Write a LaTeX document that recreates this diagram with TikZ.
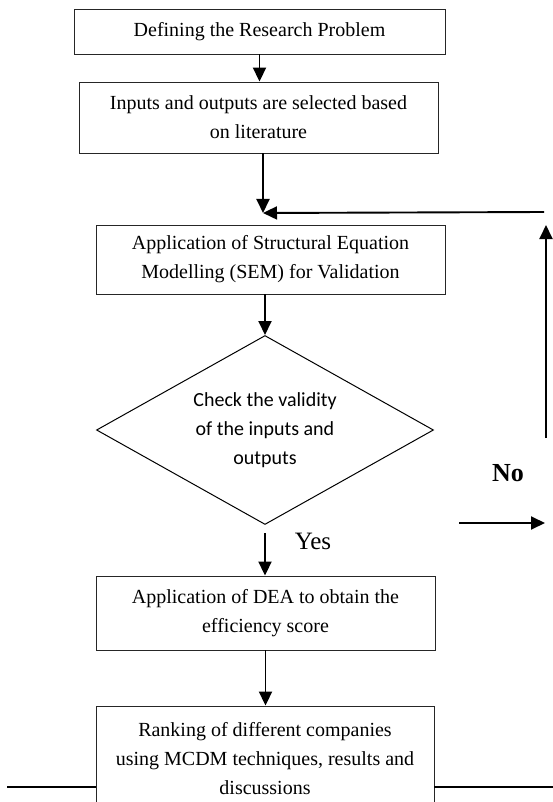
\documentclass[tikz,border=0pt]{standalone}
\usepackage{fontspec}
\setmainfont{Liberation Serif}
\newfontfamily\calfont{Carlito}
\usepackage{tikz}
\usetikzlibrary{positioning, arrows.meta, shapes.geometric}
\tikzstyle{process} = [rectangle, draw=black!85, line width=0.9pt, align=center, font=\fontsize{20}{29}\selectfont]
\tikzstyle{decision} = [diamond, draw=black, line width=1pt, aspect=1.78, inner sep=0pt, align=center, font=\calfont\fontsize{20}{29}\selectfont]
\tikzstyle{arrow} = [line width=1.9pt,-{Triangle[length=14pt,width=13pt]}]
\begin{document}
\begin{tikzpicture}[x=1pt,y=-1pt]
\clip (0,0) rectangle (553,802);
\node (define) [process, minimum width=371pt, minimum height=45pt] at (259.5,31.5) {Defining the Research Problem};
\node (select) [process, minimum width=359pt, minimum height=71pt] at (258.5,117.5) {Inputs and outputs are selected based\\on literature};
\node (sem) [process, minimum width=349pt, minimum height=69pt] at (270.5,259.5) {Application of Structural Equation\\Modelling (SEM) for Validation};
\node (check) [decision, minimum width=337pt, minimum height=189pt] at (265,430) {Check the validity\\of the inputs and\\outputs};
\node (dea) [process, minimum width=339pt, minimum height=74pt] at (265.5,613) {Application of DEA to obtain the\\efficiency score};
\node (rank) [process, minimum width=338pt, minimum height=106pt] at (265,759) {Ranking of different companies\\using MCDM techniques, results and\\discussions};

\coordinate (merge) at (263,213);
\coordinate (fbtop) at (544,212);
\coordinate (fbbot) at (546,438);
\coordinate (fbtip) at (546,225);
\coordinate (yes) at (265,533);
\coordinate (nostart) at (459,523);
\coordinate (noend) at (545,523);
\coordinate (lleft) at (7,787);
\coordinate (rright) at (553,787);

\draw [arrow] (define.south) -- (define.south |- select.north);
\draw [arrow] (merge |- select.south) -- (merge);
\draw [arrow] (fbtop) -- (merge);
\draw [arrow] (fbbot) -- (fbtip);
\draw [arrow] (sem.south -| check.north) -- (check.north);
\draw [arrow] (yes) -- (yes |- dea.north);
\draw [arrow] (nostart) -- (noend);
\draw [arrow] (dea.south) -- (dea.south |- rank.north);
\draw [line width=1.9pt] (lleft) -- (lleft -| rank.west);
\draw [line width=1.9pt] (rank.east |- rright) -- (rright);

\node (yeslabel) [font=\fontsize{25}{30}\selectfont] at (313,541) {Yes};
\node (nolabel) [font=\bfseries\fontsize{26}{30}\selectfont] at (508,473) {No};
\end{tikzpicture}
\end{document}
